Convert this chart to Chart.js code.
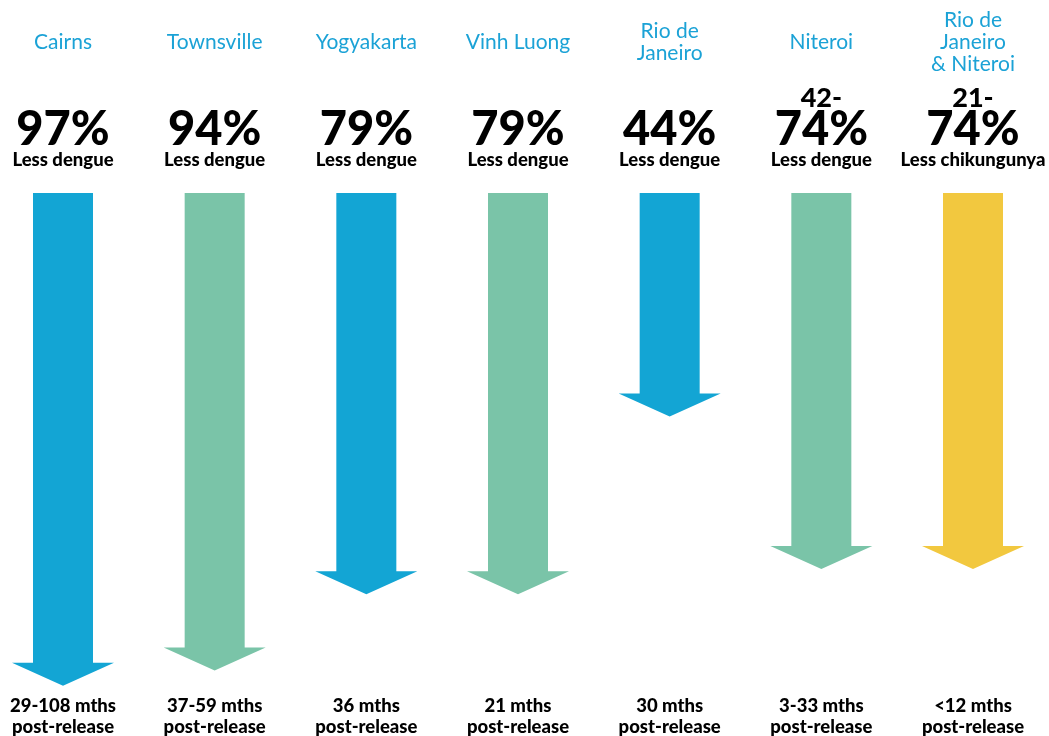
<!DOCTYPE html>
<html><head><meta charset="utf-8">
<script src="https://cdn.jsdelivr.net/npm/chart.js@4"></script>
<style>html,body{margin:0;padding:0;background:#fff}#wrap{width:1049px;height:736px;position:relative}</style>
</head><body>
<div id="wrap"><canvas id="c" width="1049" height="736"></canvas></div>
<script>
// ---- data ----
const places = [["Cairns"], ["Townsville"], ["Yogyakarta"], ["Vinh Luong"], ["Rio de", "Janeiro"], ["Niteroi"], ["Rio de", "Janeiro", "& Niteroi"]];
const reduction = [97, 94, 79, 79, 44, 74, 74];
const rangeLow = ["", "", "", "", "", "42-", "21-"];
const disease = ["Less dengue", "Less dengue", "Less dengue", "Less dengue", "Less dengue", "Less dengue", "Less chikungunya"];
const periods = ["29-108 mths", "37-59 mths", "36 mths", "21 mths", "30 mths", "3-33 mths", "<12 mths"];
const periodNote = ["post-release", "post-release", "post-release", "post-release", "post-release", "post-release", "post-release"];

// ---- styles ----
const BLUE = "#13A5D4", GREEN = "#7AC4A8", YELLOW = "#F2C83F";
const arrowColours = [BLUE, GREEN, BLUE, GREEN, BLUE, GREEN, YELLOW];
const TITLE = "#1BA2D6";

const arrowPlugin = {
  id: "arrows",
  afterDatasetsDraw(chart) {
    const ctx = chart.ctx;
    const meta = chart.getDatasetMeta(0);
    const shaftW = 60, headW = 102, headH = 23;
    meta.data.forEach((el, i) => {
      const x = el.x, top = el.base, tip = el.y;
      ctx.save();
      ctx.fillStyle = arrowColours[i];
      ctx.beginPath();
      ctx.moveTo(x - shaftW / 2, top);
      ctx.lineTo(x + shaftW / 2, top);
      ctx.lineTo(x + shaftW / 2, tip - headH);
      ctx.lineTo(x + headW / 2, tip - headH);
      ctx.lineTo(x, tip);
      ctx.lineTo(x - headW / 2, tip - headH);
      ctx.lineTo(x - shaftW / 2, tip - headH);
      ctx.closePath();
      ctx.fill();
      ctx.restore();
    });
    ctx.save();
    ctx.textAlign = "center";
    ctx.textBaseline = "middle";
    meta.data.forEach((el, i) => {
      const x = el.x;
      const lines = places[i];
      ctx.fillStyle = TITLE;
      ctx.font = "400 21px Lato, 'Open Sans', sans-serif";
      const lh = 22;
      const startY = 42 - (lines.length - 1) * lh / 2;
      lines.forEach((t, k) => ctx.fillText(t, x, startY + k * lh));
      ctx.fillStyle = "#000";
      if (rangeLow[i]) {
        ctx.font = "900 27px Lato, sans-serif";
        ctx.fillText(rangeLow[i], x, 98);
      }
      ctx.font = "900 47px Lato, sans-serif";
      ctx.fillText(reduction[i] + "%", x, 130);
      ctx.font = "900 18.5px Lato, sans-serif";
      ctx.fillText(disease[i], x, 160);
      ctx.fillText(periods[i], x, 706);
      ctx.fillText(periodNote[i], x, 727);
    });
    ctx.restore();
  }
};

new Chart(document.getElementById("c"), {
  type: "bar",
  data: {
    labels: places.map(p => p.join(" ")),
    datasets: [{ data: reduction, backgroundColor: "rgba(0,0,0,0)", borderWidth: 0, barThickness: 60 }]
  },
  options: {
    responsive: false,
    animation: false,
    layout: { padding: { left: 63, right: 76, top: 193, bottom: 35 } },
    plugins: { legend: { display: false }, tooltip: { enabled: false } },
    scales: {
      x: { display: false, offset: false },
      y: { display: false, reverse: true, min: 0, max: 100 }
    }
  },
  plugins: [arrowPlugin]
});
</script>
</body></html>
